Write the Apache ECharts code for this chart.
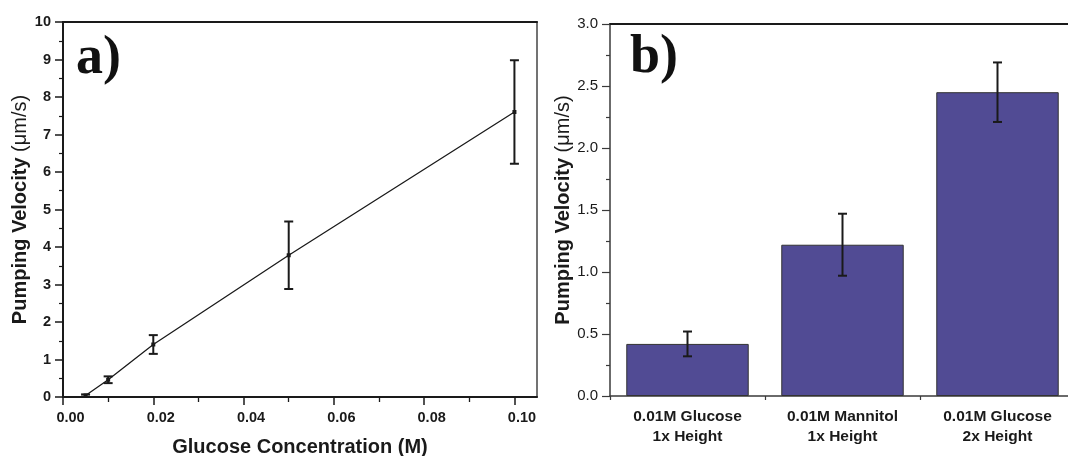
<!DOCTYPE html>
<html>
<head>
<meta charset="utf-8">
<script src="https://cdn.jsdelivr.net/npm/echarts@6/dist/echarts.min.js"></script>
<style>
  html, body { margin: 0; padding: 0; background: #fff; }
  #chart { width: 1068px; height: 456px; }
</style>
</head>
<body>
<div id="chart"></div>
<script>
// panel a: pumping velocity vs glucose concentration
const concValues = [0.005, 0.01, 0.02, 0.05, 0.10]
const velocityA = [0.04, 0.46, 1.4, 3.78, 7.6]
const errorA = [0.03, 0.09, 0.25, 0.9, 1.38]
const xMajorA = [0, 0.02, 0.04, 0.06, 0.08, 0.10]
const xMinorA = [0.01, 0.03, 0.05, 0.07, 0.09]

// panel b: bars
const categoriesB = ['0.01M Glucose\n1x Height', '0.01M Mannitol\n1x Height', '0.01M Glucose\n2x Height']
const velocityB = [0.42, 1.22, 2.45]
const errorB = [0.1, 0.25, 0.24]

const font = 'Liberation Sans, Arial, sans-serif'
const dark = '#1a1a1a'

const lineData = concValues.map((x, i) => [x, velocityA[i]])
const errDataA = concValues.map((x, i) => [x, velocityA[i] - errorA[i], velocityA[i] + errorA[i]])
const errDataB = velocityB.map((v, i) => [i, v - errorB[i], v + errorB[i]])

function errorBar (capHalf, width) {
  return function (params, api) {
    const x = api.value(0)
    const lo = api.coord([x, api.value(1)])
    const hi = api.coord([x, api.value(2)])
    const style = { stroke: dark, lineWidth: width }
    return {
      type: 'group',
      children: [
        { type: 'line', shape: { x1: hi[0], y1: hi[1], x2: lo[0], y2: lo[1] }, style: style },
        { type: 'line', shape: { x1: hi[0] - capHalf, y1: hi[1], x2: hi[0] + capHalf, y2: hi[1] }, style: style },
        { type: 'line', shape: { x1: lo[0] - capHalf, y1: lo[1], x2: lo[0] + capHalf, y2: lo[1] }, style: style }
      ]
    }
  }
}

const nameRich = {
  b: { fontFamily: font, fontWeight: 'bold', fontSize: 20, color: dark },
  n: { fontFamily: font, fontWeight: 'normal', fontSize: 20, color: dark }
}

// plain line used for the frame (no ticks, no labels)
function frameAxis (extra) {
  return Object.assign({
    type: 'value', min: 0, max: 1,
    axisLine: { show: true, onZero: false, lineStyle: { color: dark, width: 2 } },
    axisTick: { show: false }, axisLabel: { show: false }, splitLine: { show: false }
  }, extra)
}

const chart = echarts.init(document.getElementById('chart'))
chart.setOption({
  animation: false,
  grid: [
    { left: 63, top: 22, width: 474, height: 375, outerBoundsMode: 'none' },
    { left: 610, top: 24, width: 465, height: 372, outerBoundsMode: 'none' }
  ],
  graphic: [
    { type: 'text', left: 76, top: 32, style: { text: 'a)', font: 'bold 54px "Liberation Serif", "Times New Roman", serif', fill: '#111' } },
    { type: 'text', left: 630, top: 31, style: { text: 'b)', font: 'bold 54px "Liberation Serif", "Times New Roman", serif', fill: '#111' } }
  ],
  xAxis: [
    { // a bottom
      type: 'value', gridIndex: 0, position: 'bottom', min: 0, max: 0.105,
      name: 'Glucose Concentration (M)', nameLocation: 'middle', nameGap: 40,
      nameTextStyle: { fontFamily: font, fontWeight: 'bold', fontSize: 20, color: dark },
      axisLine: { onZero: false, lineStyle: { color: dark, width: 2 } },
      axisTick: { show: true, length: 8, customValues: xMajorA, lineStyle: { color: dark, width: 1.5 } },
      axisLabel: {
        customValues: xMajorA,
        formatter: v => v.toFixed(2),
        padding: [0, 0, 0, 15],
        fontFamily: font, fontWeight: 'bold', fontSize: 14.5, color: dark, margin: 13
      },
      splitLine: { show: false }
    },
    { // a minor ticks
      type: 'value', gridIndex: 0, position: 'bottom', min: 0, max: 0.105,
      axisLine: { show: false, onZero: false },
      axisTick: { show: true, length: 5, customValues: xMinorA, lineStyle: { color: dark, width: 1.3 } },
      axisLabel: { show: false }, splitLine: { show: false }
    },
    frameAxis({ gridIndex: 0, position: 'top' }),
    { // b categories
      type: 'category', gridIndex: 1, position: 'bottom', data: categoriesB,
      axisLine: { onZero: false, lineStyle: { color: '#3a3a3a', width: 1.5 } },
      axisTick: { alignWithLabel: true, length: 7, lineStyle: { color: dark, width: 1.5 } },
      axisLabel: { fontFamily: font, fontWeight: 'bold', fontSize: 15.5, color: dark, lineHeight: 20, margin: 11 }
    },
    { // b boundary ticks
      type: 'value', gridIndex: 1, position: 'bottom', min: 0, max: 3, interval: 1,
      axisLine: { show: false, onZero: false },
      axisTick: { show: true, length: 4, lineStyle: { color: '#3a3a3a', width: 1.2 } },
      axisLabel: { show: false }, splitLine: { show: false }
    },
    frameAxis({ gridIndex: 1, position: 'top' })
  ],
  yAxis: [
    { // a left
      type: 'value', gridIndex: 0, position: 'left', min: 0, max: 10, interval: 1,
      name: '{b|Pumping Velocity }{n|(μm/s)}', nameLocation: 'middle', nameGap: 29,
      nameTextStyle: { rich: nameRich },
      axisLine: { show: true, onZero: false, lineStyle: { color: dark, width: 2 } },
      axisTick: { show: true, length: 8, lineStyle: { color: dark, width: 1.5 } },
      minorTick: { show: true, splitNumber: 2, length: 4, lineStyle: { color: dark, width: 1.2 } },
      axisLabel: { fontFamily: font, fontWeight: 'bold', fontSize: 14.5, color: dark, margin: 12 },
      splitLine: { show: false }
    },
    frameAxis({ gridIndex: 0, position: 'right', axisLine: { show: true, onZero: false, lineStyle: { color: '#444', width: 1.5 } } }),
    { // b left
      type: 'value', gridIndex: 1, position: 'left', min: 0, max: 3, interval: 0.5,
      name: '{b|Pumping Velocity }{n|(μm/s)}', nameLocation: 'middle', nameGap: 36,
      nameTextStyle: { rich: nameRich },
      axisLine: { show: true, onZero: false, lineStyle: { color: '#3a3a3a', width: 1.5 } },
      axisTick: { show: true, length: 8, lineStyle: { color: '#3a3a3a', width: 1.2 } },
      minorTick: { show: true, splitNumber: 2, length: 4, lineStyle: { color: '#3a3a3a', width: 1.2 } },
      axisLabel: { formatter: v => v.toFixed(1), fontFamily: font, fontSize: 15, color: dark, margin: 12 },
      splitLine: { show: false }
    }
  ],
  series: [
    {
      type: 'line', xAxisIndex: 0, yAxisIndex: 0, data: lineData,
      symbol: 'rect', symbolSize: 4, showSymbol: true,
      lineStyle: { color: dark, width: 1.3 }, itemStyle: { color: dark }
    },
    {
      type: 'custom', xAxisIndex: 0, yAxisIndex: 0, data: errDataA,
      renderItem: errorBar(4.5, 2), z: 5
    },
    {
      type: 'bar', xAxisIndex: 3, yAxisIndex: 2, data: velocityB,
      barCategoryGap: '21%',
      itemStyle: { color: '#514b94', borderColor: '#333', borderWidth: 1 }
    },
    {
      type: 'custom', xAxisIndex: 3, yAxisIndex: 2, data: errDataB,
      renderItem: errorBar(4.5, 2), z: 5
    }
  ]
})
</script>
</body>
</html>
